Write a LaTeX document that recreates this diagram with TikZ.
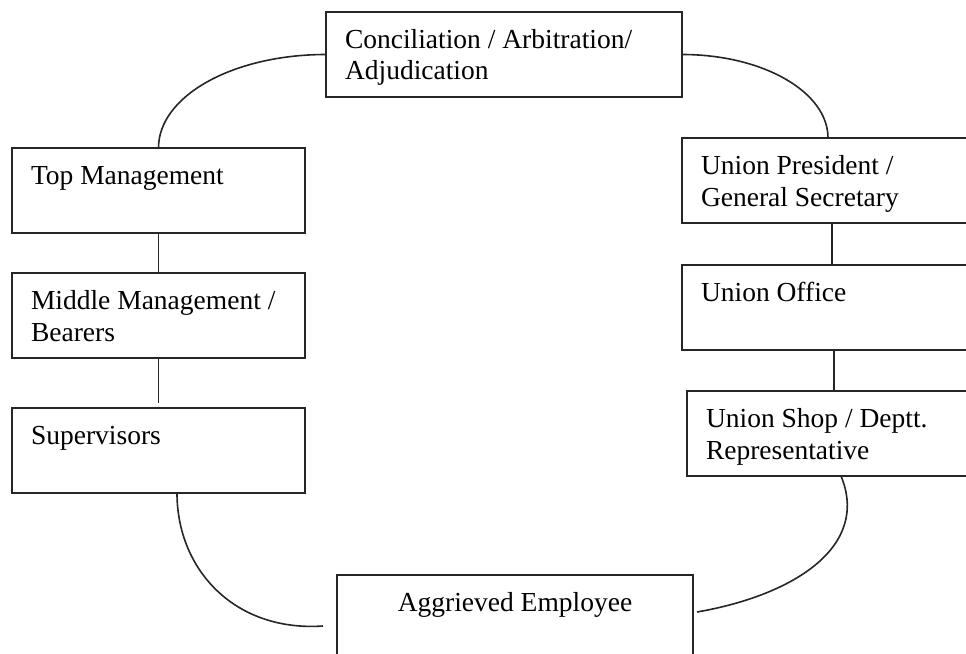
\documentclass[tikz,border=0pt]{standalone}
\usepackage{fontspec}
\setmainfont{Liberation Serif}
\usetikzlibrary{calc}
% first line of every box sits a fixed distance below the top edge
\newcommand\firstline{\rule{0pt}{36pt}}
\newcommand\boxtext[2]{\parbox[t][85pt][t]{#1}{\raggedright\firstline #2}}

\begin{document}
\begin{tikzpicture}[x=1pt,y=-1pt,
  stage/.style={draw=black!85, line width=1.9pt, rectangle, anchor=north west,
    inner xsep=19pt, inner ysep=0pt, outer sep=0pt,
    font=\fontsize{27.5pt}{32pt}\selectfont},
  link/.style={draw=black!85, line width=1.6pt}]
\useasboundingbox (0,0) rectangle (966,653);
\clip (0,0) rectangle (966,653);

% stages of the grievance procedure
\node[stage] (conc) at (326,12) {\boxtext{318pt}{Conciliation / Arbitration/\\Adjudication}};
\node[stage] (top) at (12,148) {\boxtext{255pt}{Top Management}};
\node[stage] (mid) at (12,273) {\boxtext{255pt}{Middle Management /\\Bearers}};
\node[stage] (sup) at (12,408) {\boxtext{255pt}{Supervisors}};
\node[stage] (pres) at (682,138) {\boxtext{262pt}{Union President /\\General Secretary}};
\node[stage] (office) at (682,265) {\boxtext{266pt}{Union Office}};
\node[stage] (shop) at (687,391) {\boxtext{270pt}{Union Shop / Deptt.\\Representative}};
\node[stage, inner xsep=0pt] (emp) at (337,575)
  {\parbox[t][85pt][t]{356pt}{\centering\firstline Aggrieved Employee}};

% free ends of the two lower arcs
\coordinate (empL) at ($(emp.north west)+(-14,51)$);
\coordinate (empR) at ($(emp.north east)+(4,37)$);

% management side
\draw[link] (conc.west) .. controls +(-93,0) and +(0,-52) .. (top.north);
\draw[link] (top.south) -- (mid.north);
\draw[link] (mid.south) -- ([yshift=5pt]sup.north);
\draw[link] ([xshift=18.5pt]sup.south) .. controls +(0,77) and +(-88,6) .. (empL);

% union side
\draw[link] (conc.east) .. controls +(81,0) and +(0,-46) .. ([xshift=-4pt]pres.north);
\draw[link] (pres.south) -- (pres.south |- office.north);
\draw[link] (office.south) -- (office.south |- shop.north);
\draw[link] (shop.south) .. controls +(29,70) and +(98,-17) .. (empR);
\end{tikzpicture}
\end{document}
